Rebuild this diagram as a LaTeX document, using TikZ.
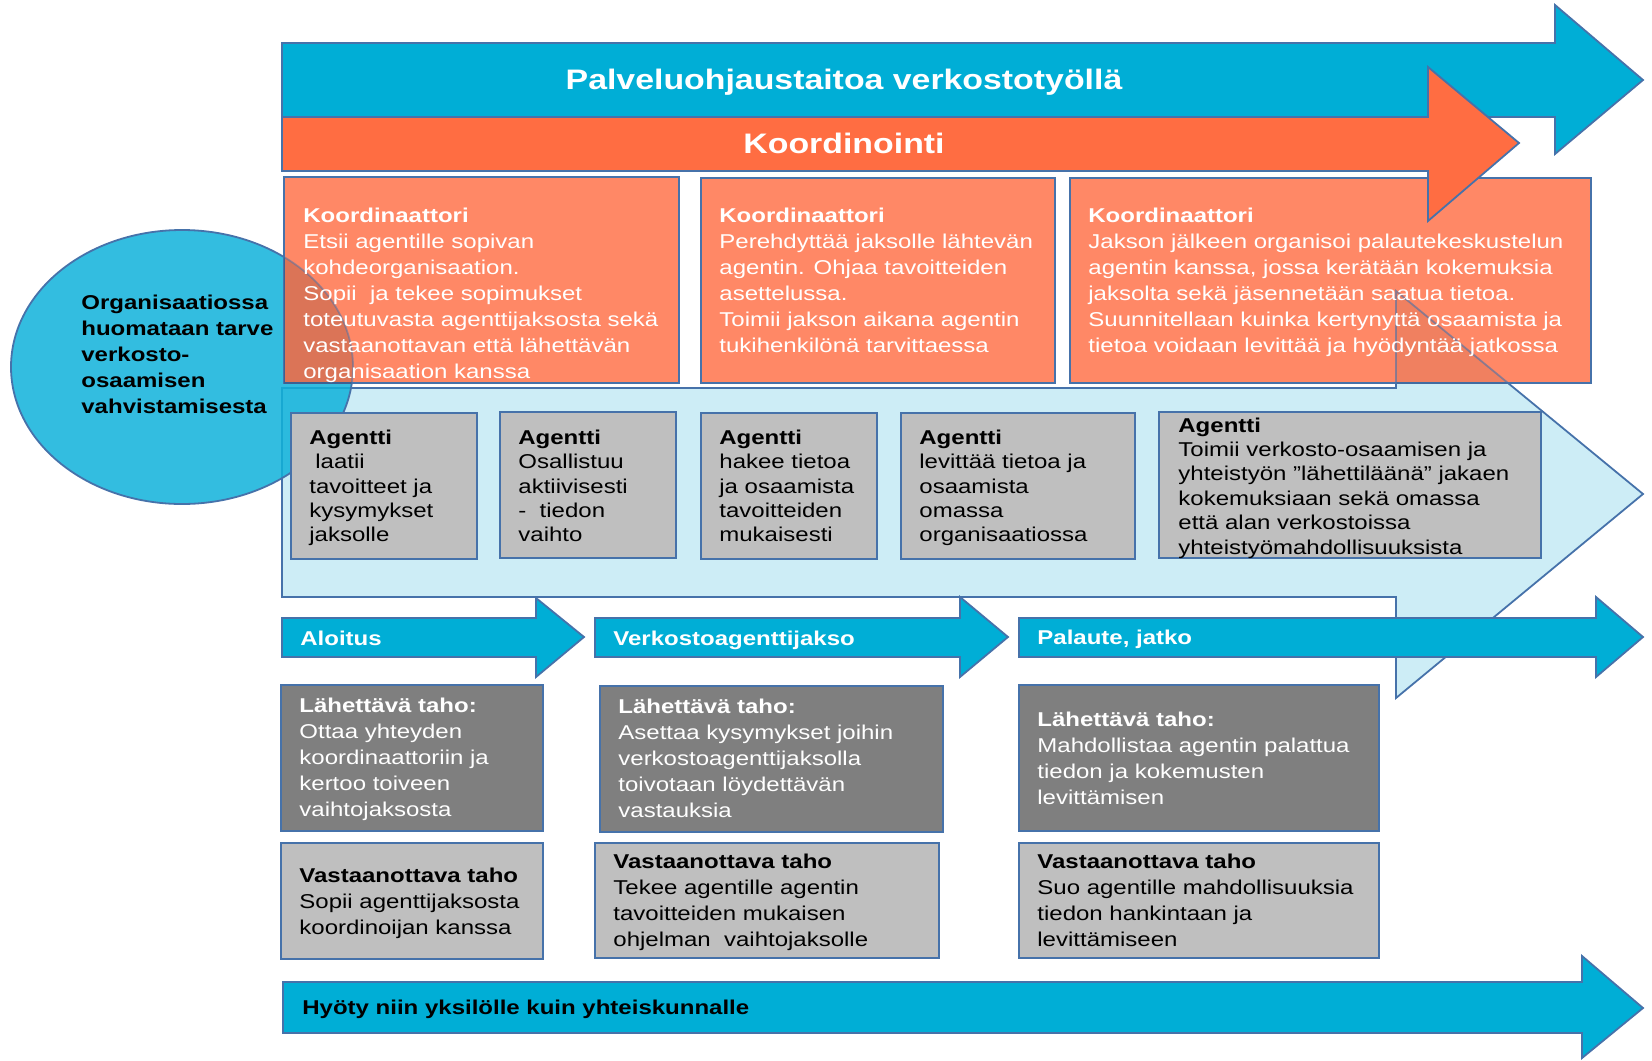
\documentclass[tikz,border=0pt]{standalone}
\usepackage{fontspec}
\setmainfont[FakeStretch=1.2]{Liberation Sans}
\usetikzlibrary{shapes}

\definecolor{barblue}{RGB}{0,174,214}
\definecolor{ovalblue}{RGB}{15,178,218}
\definecolor{paleblue}{RGB}{205,237,246}
\definecolor{barorange}{RGB}{255,109,66}
\definecolor{boxorange}{RGB}{255,136,102}
\definecolor{boxgray}{RGB}{191,191,191}
\definecolor{boxdark}{RGB}{127,127,127}
\definecolor{edgeblue}{RGB}{70,114,170}

\newcommand{\boxfont}{\fontsize{10pt}{13pt}\selectfont}
\newcommand{\agentfont}{\fontsize{10pt}{12.2pt}\selectfont}
\newcommand{\titlefont}{\fontsize{14.1pt}{17pt}\selectfont\bfseries}

\begin{document}
\begin{tikzpicture}[x=0.5pt, y=-0.5pt]
      \tikzstyle{plate} = [draw=edgeblue, line width=0.9pt]
      \tikzstyle{txt} = [inner sep=0pt, align=left, anchor=west, font=\boxfont]
      \tikzstyle{ctxt} = [txt, anchor=north west, text=white]
      \tikzstyle{atxt} = [txt, font=\agentfont]
      \tikzstyle{ptxt} = [inner sep=0pt, anchor=base west, text=white, font=\boxfont\bfseries]
      \useasboundingbox (0,0) rectangle (1652,1060);

      % pale arrow in the back
      \draw [plate, fill=paleblue] (282,388) -- (1396,388) -- (1396,291) -- (1643,494)
            -- (1396,698) -- (1396,597) -- (282,597) -- cycle;

      % oval on the left
      \draw [plate, fill=ovalblue, fill opacity=0.85] (182,367) ellipse [x radius=171, y radius=137];
      \node (need) [txt, font=\boxfont\bfseries] at (81,354.5)
            {Organisaatiossa\\huomataan tarve\\verkosto-\\osaamisen\\vahvistamisesta};

      % top arrow
      \draw [plate, fill=barblue] (282,43) -- (1555,43) -- (1555,5) -- (1643,80)
            -- (1555,154) -- (1555,117) -- (282,117) -- cycle;
      \node (service) [inner sep=0pt, anchor=base, text=white, font=\titlefont] at (844,89)
            {Palveluohjaustaitoa verkostotyöllä};

      % coordinator boxes
      \draw [plate, fill=boxorange] (284,177) rectangle (679,383);
      \draw [plate, fill=boxorange] (701,178) rectangle (1055,383);
      \draw [plate, fill=boxorange] (1070,178) rectangle (1591,383);
      \begin{scope}
        \clip (284,177) rectangle (679,383);
        \draw [plate, draw opacity=0.5, fill=black, fill opacity=0.14] (182,367) ellipse [x radius=171, y radius=137];
      \end{scope}
      \begin{scope}
        \clip (1070,178) rectangle (1591,383);
        \draw [plate, draw opacity=0.6, fill=black, fill opacity=0.06] (1396,388) -- (1396,291)
              -- (1643,494) -- (1396,698) -- cycle;
      \end{scope}

      % second arrow
      \draw [plate, fill=barorange] (282,117) -- (1428,117) -- (1428,67) -- (1519,143)
            -- (1428,221) -- (1428,171) -- (282,171) -- cycle;
      \node (coord) [inner sep=0pt, anchor=base, text=white, font=\titlefont] at (844,153) {Koordinointi};

      \node (c1) [ctxt] at (303,207.5) {\textbf{Koordinaattori}\\Etsii agentille sopivan\\kohdeorganisaation.\\Sopii~ ja tekee sopimukset\\toteutuvasta agenttijaksosta sekä\\vastaanottavan että lähettävän\\organisaation kanssa};
      \node (c2) [ctxt] at (719,207.5) {\textbf{Koordinaattori}\\Perehdyttää jaksolle lähtevän\\agentin. Ohjaa tavoitteiden\\asettelussa.\\Toimii jakson aikana agentin\\tukihenkilönä tarvittaessa};
      \node (c3) [ctxt] at (1088,207.5) {\textbf{Koordinaattori}\\Jakson jälkeen organisoi palautekeskustelun\\agentin kanssa, jossa kerätään kokemuksia\\jaksolta sekä jäsennetään saatua tietoa.\\Suunnitellaan kuinka kertynyttä osaamista ja\\tietoa voidaan levittää ja hyödyntää jatkossa};

      % agent boxes
      \draw [plate, fill=boxgray] (291,413) rectangle (477,559);
      \draw [plate, fill=boxgray] (500,412) rectangle (676,558);
      \draw [plate, fill=boxgray] (701,413) rectangle (877,559);
      \draw [plate, fill=boxgray] (901,413) rectangle (1135,559);
      \draw [plate, fill=boxgray] (1159,412) rectangle (1541,558);
      \node (a1) [atxt] at (309,488) {\textbf{Agentti}\\\hspace*{0.3em}laatii\\tavoitteet ja\\kysymykset\\jaksolle};
      \node (a2) [atxt] at (518,486) {\textbf{Agentti}\\Osallistuu\\aktiivisesti\\-~ tiedon\\vaihto};
      \node (a3) [atxt] at (719,486) {\textbf{Agentti}\\hakee tietoa\\ja osaamista\\tavoitteiden\\mukaisesti};
      \node (a4) [atxt] at (919,488) {\textbf{Agentti}\\levittää tietoa ja\\osaamista\\omassa\\organisaatiossa};
      \node (a5) [atxt] at (1178,488) {\textbf{Agentti}\\Toimii verkosto-osaamisen ja\\yhteistyön ”lähettiläänä” jakaen\\kokemuksiaan sekä omassa\\että alan verkostoissa\\yhteistyömahdollisuuksista};

      % phase arrows
      \draw [plate, fill=barblue] (282,618) -- (536,618) -- (536,598) -- (584,637)
            -- (536,677) -- (536,657) -- (282,657) -- cycle;
      \draw [plate, fill=barblue] (595,618) -- (960,618) -- (960,597) -- (1008,637)
            -- (960,677) -- (960,657) -- (595,657) -- cycle;
      \draw [plate, fill=barblue] (1019,618) -- (1596,618) -- (1596,597) -- (1643,637)
            -- (1596,677) -- (1596,657) -- (1019,657) -- cycle;
      \node (start) [ptxt] at (300,645) {Aloitus};
      \node (period) [ptxt] at (613,645) {Verkostoagenttijakso};
      \node (feedback) [ptxt] at (1037,644) {Palaute, jatko};

      % sending side
      \draw [plate, fill=boxdark] (281,685) rectangle (543,831);
      \draw [plate, fill=boxdark] (600,686) rectangle (943,832);
      \draw [plate, fill=boxdark] (1019,685) rectangle (1379,831);
      \node (s1) [txt, text=white] at (299,759) {\textbf{Lähettävä taho:}\\Ottaa yhteyden\\koordinaattoriin ja\\kertoo toiveen\\vaihtojaksosta};
      \node (s2) [txt, text=white] at (618,758.5) {\textbf{Lähettävä taho:}\\Asettaa kysymykset joihin\\verkostoagenttijaksolla\\toivotaan löydettävän\\vastauksia};
      \node (s3) [txt, text=white] at (1037,758) {\textbf{Lähettävä taho:}\\Mahdollistaa agentin palattua\\tiedon ja kokemusten\\levittämisen};

      % receiving side
      \draw [plate, fill=boxgray] (281,843) rectangle (543,959);
      \draw [plate, fill=boxgray] (595,843) rectangle (939,958);
      \draw [plate, fill=boxgray] (1019,843) rectangle (1379,958);
      \node (r1) [txt] at (299,903) {\textbf{Vastaanottava taho}\\Sopii agenttijaksosta\\koordinoijan kanssa};
      \node (r2) [txt] at (613,902.5) {\textbf{Vastaanottava taho}\\Tekee agentille agentin\\tavoitteiden mukaisen\\ohjelman~ vaihtojaksolle};
      \node (r3) [txt] at (1037,900.5) {\textbf{Vastaanottava taho}\\Suo agentille mahdollisuuksia\\tiedon hankintaan ja\\levittämiseen};

      % bottom arrow
      \draw [plate, fill=barblue] (283,982) -- (1582,982) -- (1582,956) -- (1643,1008)
            -- (1582,1058) -- (1582,1033) -- (283,1033) -- cycle;
      \node (benefit) [ptxt, text=black] at (302,1014) {Hyöty niin yksilölle kuin yhteiskunnalle};
\end{tikzpicture}
\end{document}
